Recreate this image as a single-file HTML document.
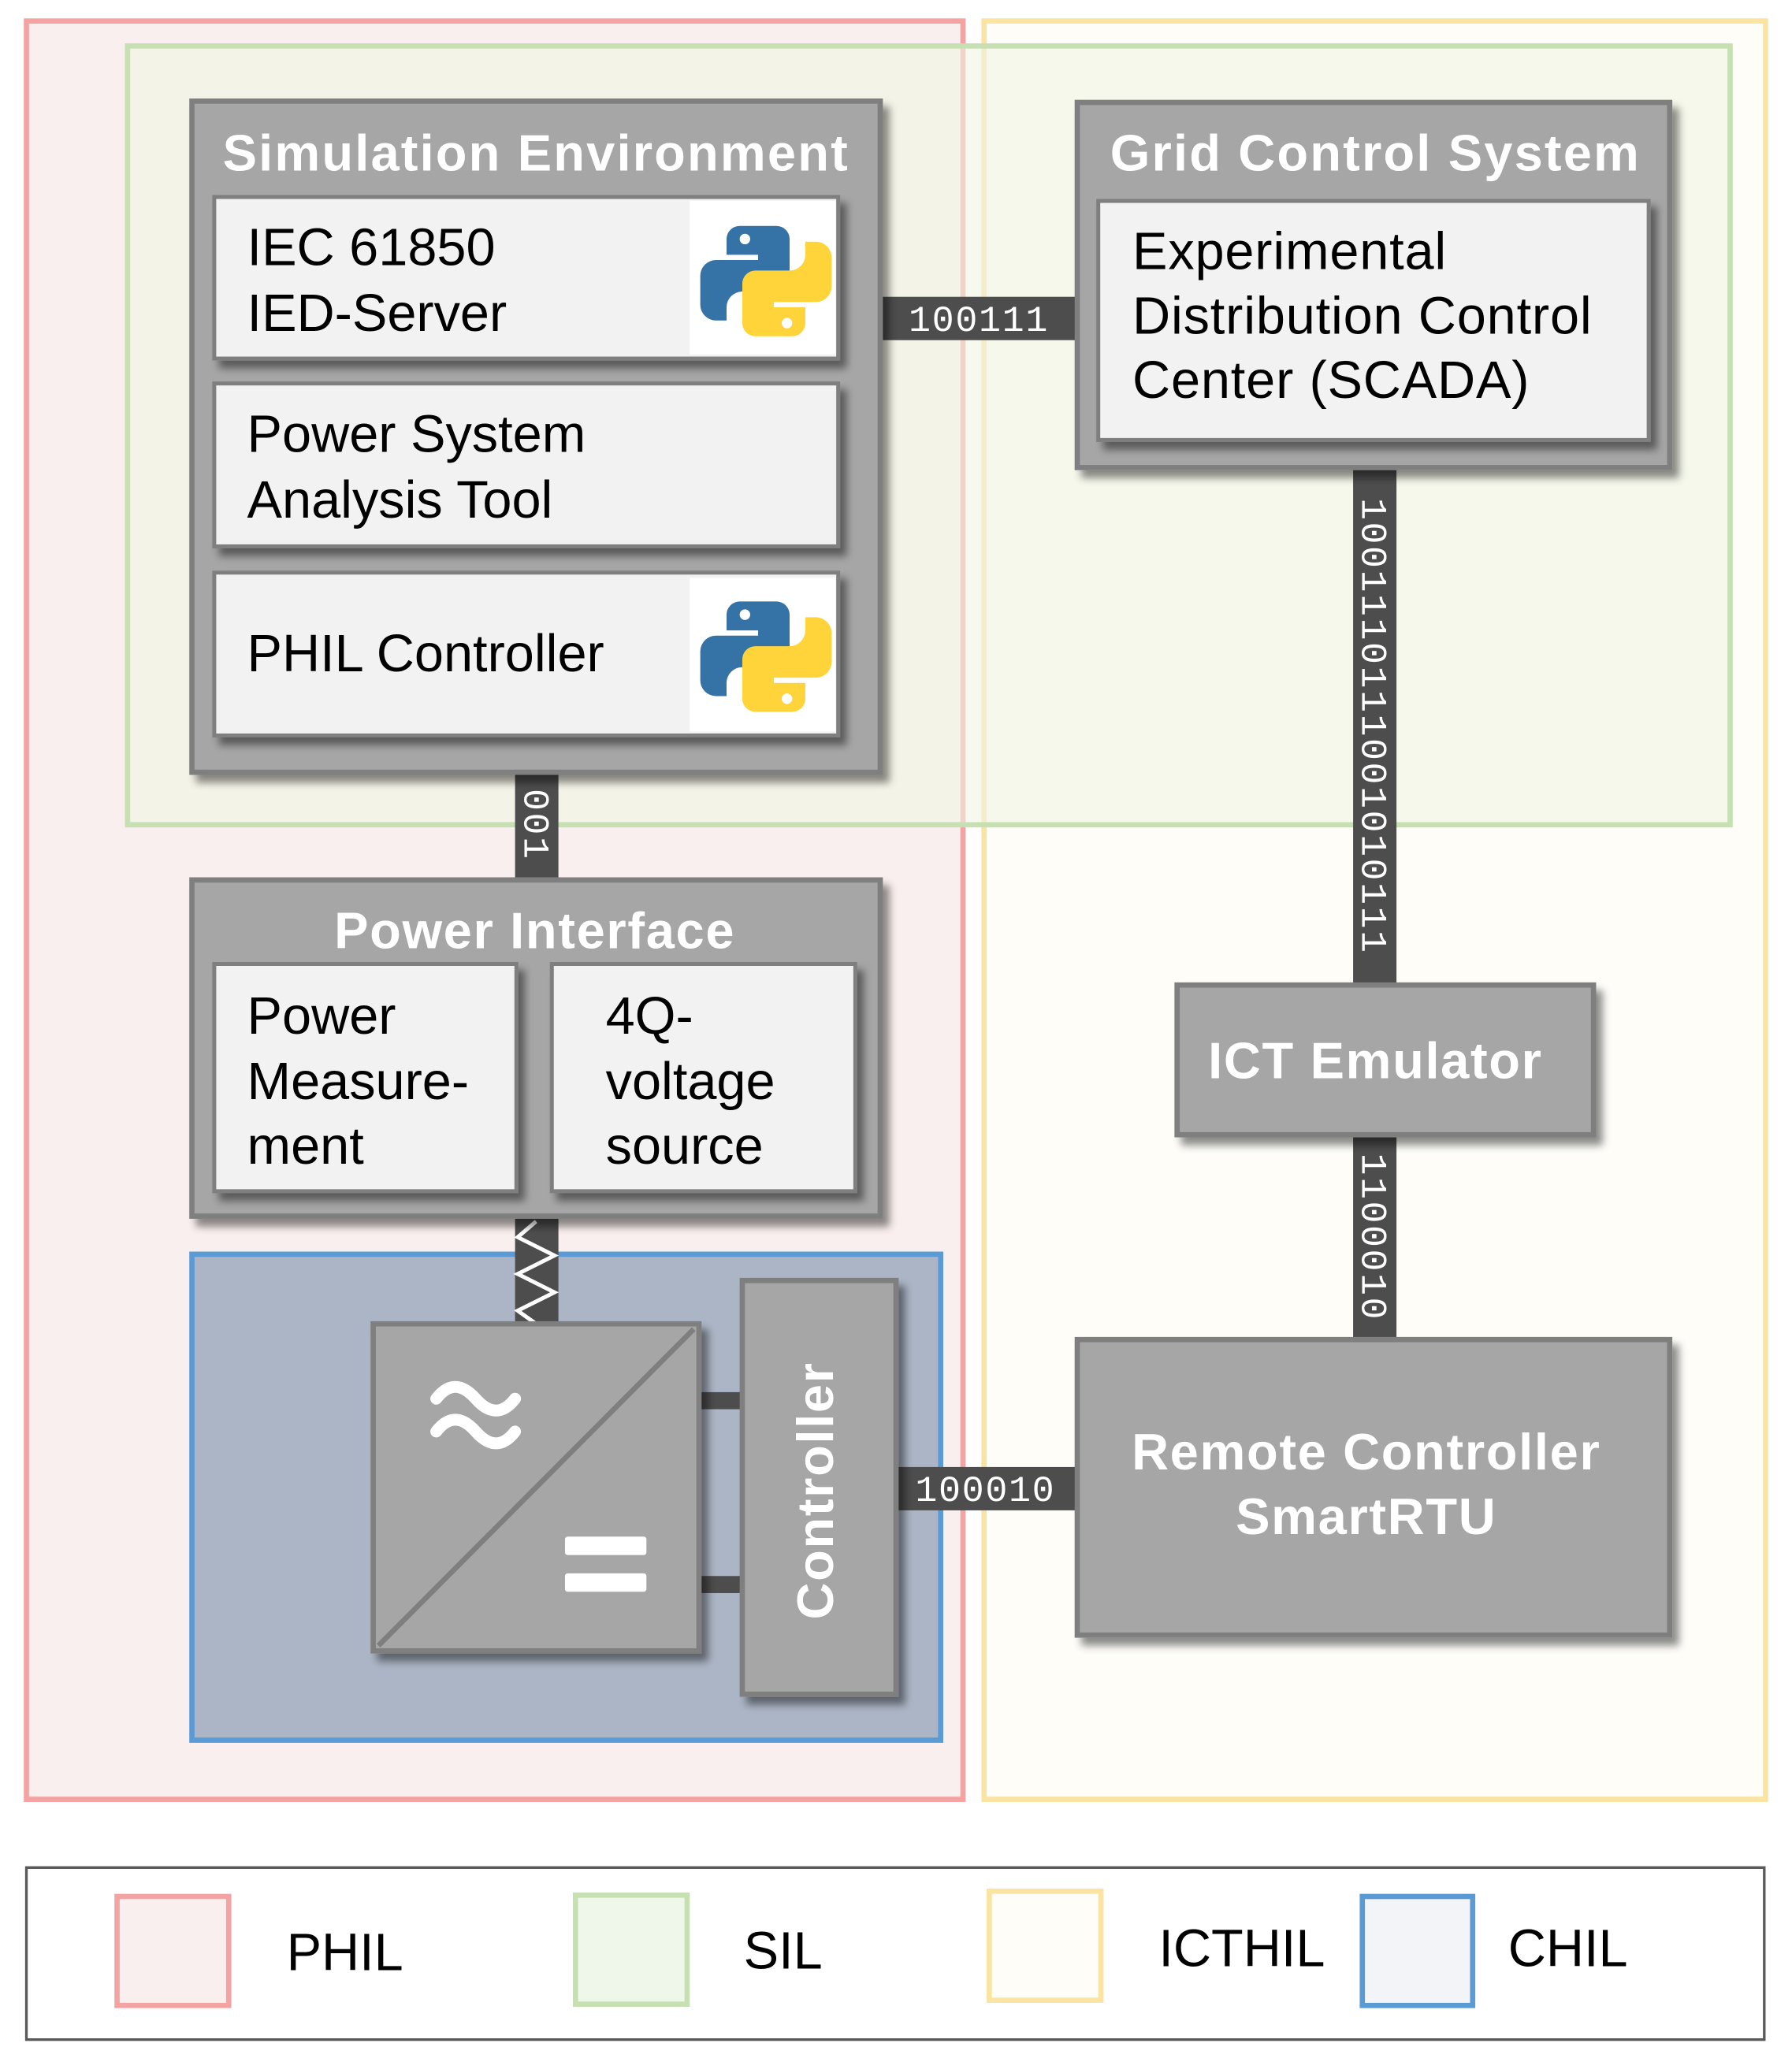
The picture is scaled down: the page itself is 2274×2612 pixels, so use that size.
<!DOCTYPE html>
<html><head><meta charset="utf-8"><style>html,body{margin:0;padding:0;background:#fff}svg{display:block}</style></head>
<body>
<svg xmlns="http://www.w3.org/2000/svg" width="2274" height="2612" viewBox="0 0 1364 1567" font-family="Liberation Sans, sans-serif">
<defs>
<filter id="sh" x="-10%" y="-10%" width="130%" height="130%"><feDropShadow dx="5" dy="6" stdDeviation="3" flood-color="#000" flood-opacity="0.45"/></filter>
<g id="py">
<path d="M30 8 h28 a10 10 0 0 1 10 10 v30 a10 10 0 0 1 -10 10 h-26 a12 12 0 0 0 -12 12 v10 h-8 a12 12 0 0 1 -12 -12 v-22 a12 12 0 0 1 12 -12 h32 v-4 h-24 v-12 a10 10 0 0 1 10 -10z" fill="#3572a5"/>
<circle cx="34" cy="18" r="4" fill="#fff"/>
<path d="M70 92 h-28 a10 10 0 0 1 -10 -10 v-30 a10 10 0 0 1 10 -10 h26 a12 12 0 0 0 12 -12 v-10 h8 a12 12 0 0 1 12 12 v22 a12 12 0 0 1 -12 12 h-32 v4 h24 v12 a10 10 0 0 1 -10 10z" fill="#ffd43b"/>
<circle cx="66" cy="82" r="4" fill="#fff"/>
</g>
</defs>
<rect width="1364" height="1567" fill="#fff"/>
<rect x="20" y="16" width="713" height="1354" fill="#f9efee" stroke="#f4a3a3" stroke-width="4"/>
<rect x="749" y="16" width="595" height="1354" fill="#fefdf8" stroke="#fbe3a2" stroke-width="4"/>
<rect x="97" y="35" width="1220" height="593" fill="#eef5e3" fill-opacity="0.6" stroke="#c6e0b2" stroke-width="4"/>
<rect x="146" y="955" width="570" height="370" fill="#abb5c5" stroke="#5b9bd5" stroke-width="4"/>

<rect x="670" y="226" width="150" height="33" fill="#4d4d4d"/>
<text x="745" y="252" fill="#fff" font-family="Liberation Mono, monospace" font-size="28" text-anchor="middle" letter-spacing="1">100111</text>
<rect x="1030" y="356" width="33" height="394" fill="#4d4d4d"/>
<text transform="translate(1037,553) rotate(90)" fill="#fff" font-family="Liberation Mono, monospace" font-size="28" text-anchor="middle" letter-spacing="1.5">1001110111001010111</text>
<rect x="1030" y="864" width="33" height="156" fill="#4d4d4d"/>
<text transform="translate(1037,942) rotate(90)" fill="#fff" font-family="Liberation Mono, monospace" font-size="28" text-anchor="middle" letter-spacing="1.5">1100010</text>
<rect x="680" y="1117" width="140" height="33" fill="#4d4d4d"/>
<text x="750" y="1143" fill="#fff" font-family="Liberation Mono, monospace" font-size="28" text-anchor="middle" letter-spacing="1">100010</text>
<rect x="392" y="588" width="33" height="82" fill="#4d4d4d"/>
<text transform="translate(399,628) rotate(90)" fill="#fff" font-family="Liberation Mono, monospace" font-size="28" text-anchor="middle" letter-spacing="1.5">001</text>
<rect x="392" y="926" width="33" height="84" fill="#4d4d4d"/>
<path d="M408 930 l-14 12 l28 14 l-28 14 l28 14 l-28 14 l14 10" fill="none" stroke="#fff" stroke-width="3"/>
<rect x="530" y="1060" width="37" height="13" fill="#4d4d4d"/>
<rect x="530" y="1200" width="37" height="13" fill="#4d4d4d"/>

<rect x="146" y="77" width="524" height="511" fill="#a6a6a6" stroke="#7f7f7f" stroke-width="4" filter="url(#sh)"/>
<text x="408" y="130" fill="#fff" font-size="39" font-weight="bold" text-anchor="middle" letter-spacing="1.3">Simulation Environment</text>
<rect x="163" y="150" width="475" height="123" fill="#f2f2f2" stroke="#7f7f7f" stroke-width="3" filter="url(#sh)"/>
<text x="188" y="202" font-size="40" fill="#000">IEC 61850</text>
<text x="188" y="252" font-size="40" fill="#000">IED-Server</text>
<rect x="525" y="153" width="111" height="117" fill="#fff"/>
<use href="#py" transform="translate(533,164)"/>
<rect x="163" y="292" width="475" height="124" fill="#f2f2f2" stroke="#7f7f7f" stroke-width="3" filter="url(#sh)"/>
<text x="188" y="344" font-size="40">Power System</text>
<text x="188" y="394" font-size="40">Analysis Tool</text>
<rect x="163" y="436" width="475" height="124" fill="#f2f2f2" stroke="#7f7f7f" stroke-width="3" filter="url(#sh)"/>
<text x="188" y="511" font-size="40">PHIL Controller</text>
<rect x="525" y="440" width="111" height="117" fill="#fff"/>
<use href="#py" transform="translate(533,450)"/>

<rect x="820" y="78" width="451" height="278" fill="#a6a6a6" stroke="#7f7f7f" stroke-width="4" filter="url(#sh)"/>
<text x="1047" y="130" fill="#fff" font-size="39" font-weight="bold" text-anchor="middle" letter-spacing="1.3">Grid Control System</text>
<rect x="836" y="153" width="419" height="182" fill="#f2f2f2" stroke="#7f7f7f" stroke-width="3" filter="url(#sh)"/>
<text x="862" y="205" font-size="40" letter-spacing="0.5">Experimental</text>
<text x="862" y="254" font-size="40" letter-spacing="0.5">Distribution Control</text>
<text x="862" y="303" font-size="40" letter-spacing="0.5">Center (SCADA)</text>

<rect x="896" y="750" width="317" height="114" fill="#a6a6a6" stroke="#7f7f7f" stroke-width="4" filter="url(#sh)"/>
<text x="1047" y="821" fill="#fff" font-size="39" font-weight="bold" text-anchor="middle" letter-spacing="1">ICT Emulator</text>

<rect x="820" y="1020" width="451" height="225" fill="#a6a6a6" stroke="#7f7f7f" stroke-width="4" filter="url(#sh)"/>
<text x="1040" y="1119" fill="#fff" font-size="39" font-weight="bold" text-anchor="middle" letter-spacing="1">Remote Controller</text>
<text x="1040" y="1168" fill="#fff" font-size="39" font-weight="bold" text-anchor="middle" letter-spacing="1">SmartRTU</text>

<rect x="146" y="670" width="524" height="256" fill="#a6a6a6" stroke="#7f7f7f" stroke-width="4" filter="url(#sh)"/>
<text x="407" y="722" fill="#fff" font-size="39" font-weight="bold" text-anchor="middle" letter-spacing="1">Power Interface</text>
<rect x="163" y="734" width="230" height="173" fill="#f2f2f2" stroke="#7f7f7f" stroke-width="3" filter="url(#sh)"/>
<text x="188" y="787" font-size="40">Power</text>
<text x="188" y="837" font-size="40">Measure-</text>
<text x="188" y="886" font-size="40">ment</text>
<rect x="420" y="734" width="231" height="173" fill="#f2f2f2" stroke="#7f7f7f" stroke-width="3" filter="url(#sh)"/>
<text x="461" y="787" font-size="40">4Q-</text>
<text x="461" y="837" font-size="40">voltage</text>
<text x="461" y="886" font-size="40">source</text>

<rect x="284" y="1008" width="248" height="249" fill="#a6a6a6" stroke="#7f7f7f" stroke-width="4" filter="url(#sh)"/>
<line x1="288" y1="1253" x2="528" y2="1012" stroke="#7f7f7f" stroke-width="4"/>
<path d="M332 1065 q14 -18 30 0 t30 0" fill="none" stroke="#fff" stroke-width="9" stroke-linecap="round"/>
<path d="M332 1090 q14 -18 30 0 t30 0" fill="none" stroke="#fff" stroke-width="9" stroke-linecap="round"/>
<rect x="430" y="1170" width="62" height="14" rx="2" fill="#fff"/>
<rect x="430" y="1198" width="62" height="14" rx="2" fill="#fff"/>

<rect x="565" y="975" width="117" height="315" fill="#a6a6a6" stroke="#7f7f7f" stroke-width="4" filter="url(#sh)"/>
<text transform="translate(634,1135) rotate(-90)" fill="#fff" font-size="39" font-weight="bold" text-anchor="middle" letter-spacing="1">Controller</text>

<rect x="20" y="1422" width="1323" height="131" fill="#fff" stroke="#595959" stroke-width="2"/>
<rect x="89" y="1444" width="85" height="83" fill="#f9efee" stroke="#f4a3a3" stroke-width="4"/>
<text x="218" y="1500" font-size="40">PHIL</text>
<rect x="438" y="1443" width="85" height="83" fill="#eff6ea" stroke="#c6e0b2" stroke-width="4"/>
<text x="566" y="1499" font-size="40">SIL</text>
<rect x="753" y="1440" width="85" height="83" fill="#fefdf8" stroke="#fbe3a2" stroke-width="4"/>
<text x="882" y="1497" font-size="40">ICTHIL</text>
<rect x="1037" y="1444" width="84" height="83" fill="#f2f4f8" stroke="#5b9bd5" stroke-width="4"/>
<text x="1148" y="1497" font-size="40">CHIL</text>
</svg>
</body></html>
